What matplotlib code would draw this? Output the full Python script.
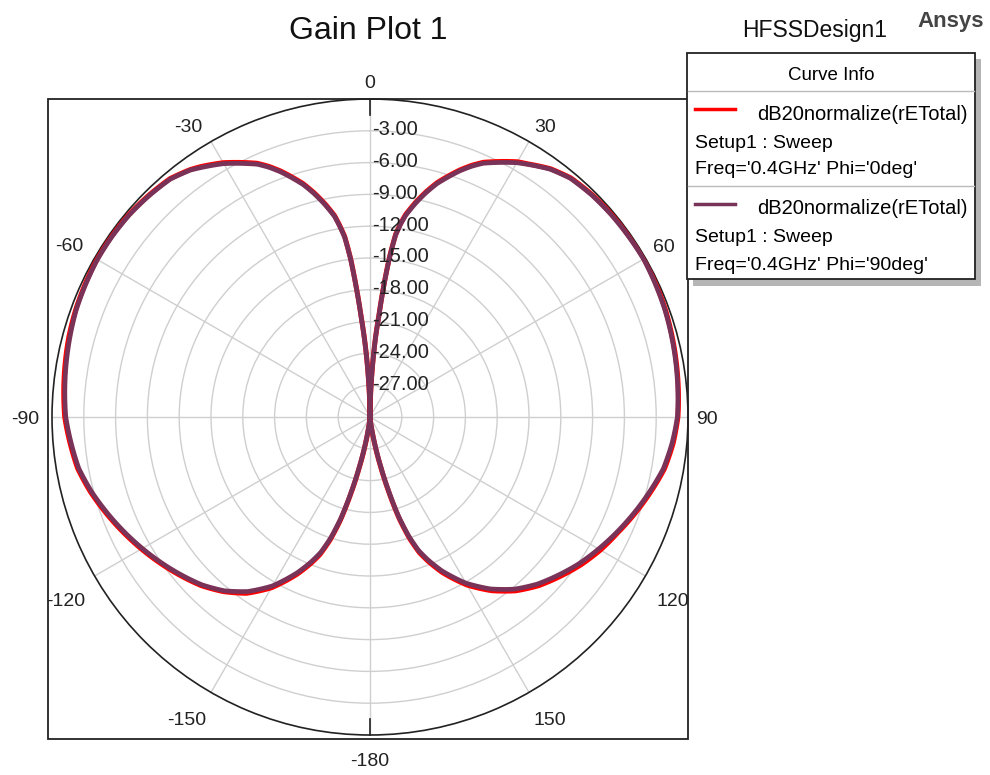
import numpy as np
import matplotlib
matplotlib.use("Agg")
import matplotlib.pyplot as plt
from matplotlib.patches import Rectangle
from matplotlib.lines import Line2D
from matplotlib.transforms import ScaledTranslation

plt.rcParams['font.family'] = ['Liberation Sans', 'DejaVu Sans']

# Theta in degrees (0 = up, clockwise positive)
theta_deg = [-180, -175, -172, -170, -168, -166, -164, -162, -160, -158, -155,
             -150, -145, -140, -135, -130, -125, -120, -115, -110, -105, -100, -95,
             -90, -85, -80, -75, -70, -65, -60, -55, -50, -45,
             -40, -38, -36, -34, -32, -30, -28, -26, -24, -22, -20, -18, -16, -14, -12,
             -10, -9, -8, -7, -6, -5, -4, -3, -2, -1, 0,
             1, 2, 3, 4, 5, 6, 7, 8, 9, 10,
             12, 14, 16, 18, 20, 22, 24, 26, 28, 30, 32, 34, 36, 38, 40,
             45, 50, 55, 60, 65, 70, 75, 80, 85, 90, 95, 100, 105, 110, 115, 120,
             125, 130, 135, 140, 145, 150,
             155, 158, 160, 162, 164, 166, 168, 170, 172, 175, 180]

# dB20normalize(rETotal), Phi = 90deg
gain_phi90 = [-30, -30, -28.9, -27.3, -25.3, -22.8, -20.1, -18.0, -16.4, -15.3, -13.8,
              -11.6, -9.9, -8.6, -7.6, -6.8, -6.0, -5.2, -4.4, -3.6, -2.8, -2.1, -1.7,
              -1.3, -1.1, -0.9, -0.7, -0.5, -0.4, -0.3, -0.3, -0.35, -0.5,
              -0.7, -0.95, -1.2, -1.6, -2.0, -2.4, -2.9, -3.4, -3.9, -4.6, -5.4, -6.3, -7.2, -8.3, -9.5,
              -10.8, -11.8, -12.9, -15.0, -17.9, -20.7, -22.8, -25.0, -27.2, -29.1, -30,
              -29.0, -27.0, -24.8, -22.5, -20.5, -17.6, -14.8, -12.7, -11.6, -10.7,
              -9.4, -8.2, -7.1, -6.2, -5.3, -4.5, -3.8, -3.3, -2.8, -2.3, -1.9, -1.5, -1.1, -0.85, -0.6,
              -0.4, -0.3, -0.25, -0.2, -0.3, -0.4, -0.55, -0.7, -0.85, -1.0, -1.4, -1.9, -2.7, -3.5, -4.3, -5.1,
              -5.9, -6.8, -7.7, -8.8, -10.2, -11.9,
              -14.0, -15.5, -16.6, -18.2, -20.3, -23.0, -25.5, -27.5, -29.0, -30, -30]

# dB20normalize(rETotal), Phi = 0deg
gain_phi0 = [-30, -30, -28.7, -27.1, -25.1, -22.6, -19.9, -17.8, -16.2, -15.1, -13.6,
             -11.4, -9.7, -8.5, -7.5, -6.7, -5.9, -5.1, -4.3, -3.5, -2.7, -2.0, -1.6,
             -1.2, -1.0, -0.8, -0.6, -0.45, -0.35, -0.25, -0.25, -0.3, -0.45,
             -0.65, -0.9, -1.15, -1.5, -1.9, -2.3, -2.8, -3.3, -3.8, -4.5, -5.3, -6.2, -7.1, -8.2, -9.4,
             -10.7, -11.7, -12.8, -14.9, -17.8, -20.6, -22.7, -24.9, -27.1, -29.0, -30,
             -28.9, -26.9, -24.7, -22.4, -20.4, -17.5, -14.7, -12.6, -11.5, -10.6,
             -9.3, -8.1, -7.0, -6.1, -5.2, -4.4, -3.7, -3.2, -2.7, -2.2, -1.85, -1.45, -1.05, -0.8, -0.55,
             -0.35, -0.25, -0.2, -0.15, -0.25, -0.35, -0.5, -0.65, -0.8, -0.95, -1.3, -1.8, -2.6, -3.4, -4.2, -4.9,
             -5.7, -6.6, -7.5, -8.6, -10.0, -11.7,
             -13.8, -15.3, -16.4, -18.0, -20.1, -22.8, -25.3, -27.3, -28.9, -30, -30]

r_ticks = [-27, -24, -21, -18, -15, -12, -9, -6, -3]
theta_labels = [0, 30, 60, 90, 120, 150, 180, -150, -120, -90, -60, -30]
theta_label_text = ['0', '30', '60', '90', '120', '150', '-180', '-150', '-120', '-90', '-60', '-30']
# label offsets from the rim, pixels (right, down)
label_offsets = [(0, -15), (16, -14), (18, -11), (19, 3), (27, 26), (21, 28), (0, 27),
                 (-24, 28), (-29, 26), (-27, 3), (-25, -11), (-23, -14)]

W, H = 990, 775
RED = '#ff0000'
PURPLE = '#7a3358'
GRID = '#cfcfcf'
INK = '#222222'


def fx(px):
    return px / W


def fy(py):
    return 1 - py / H


fig = plt.figure(figsize=(9.9, 7.75), dpi=100)

# outer frame around the plot area
fig.patches.append(Rectangle((fx(48), fy(739)), fx(688) - fx(48), fy(99) - fy(739),
                             transform=fig.transFigure, fill=False, edgecolor=INK,
                             linewidth=1.3, zorder=0))

ax = fig.add_axes([fx(52), fy(735), fx(688) - fx(52), fy(99) - fy(735)], projection='polar')
ax.set_theta_zero_location('N')
ax.set_theta_direction(-1)
ax.set_ylim(-30, 0)
ax.set_yticks(r_ticks)
ax.set_yticklabels([])
ax.set_xticks(np.deg2rad(np.arange(0, 360, 30)))
ax.set_xticklabels([])
ax.set_xticks(np.deg2rad(np.arange(0, 360, 5)), minor=True)
ax.tick_params(axis='x', which='both', direction='in', length=6, width=1.0, color=INK)
ax.grid(True, color=GRID, linewidth=1.0)
ax.spines['polar'].set_linewidth(1.2)
ax.spines['polar'].set_color(INK)

# longer ticks at 0 and 180
for a in (0, np.pi):
    ax.plot([a, a], [-1.5, 0], color=INK, lw=1.2, clip_on=False)

th = np.deg2rad(theta_deg)
curves = ax.plot(th, gain_phi0, color=RED, lw=3.6, zorder=3, solid_joinstyle='round')
curves += ax.plot(th, gain_phi90, color=PURPLE, lw=3.4, zorder=4, solid_joinstyle='round')
# let the polar transform draw each segment as an arc instead of a chord
for ln in curves:
    ln.get_path()._interpolation_steps = 12

# radial labels along the 0 deg spoke
off = ax.transData + ScaledTranslation(0.02, 0.01, fig.dpi_scale_trans)
for v in r_ticks:
    ax.text(0, v, f"{v:.2f}", ha='left', va='center', fontsize=14.5, color=INK,
            transform=off, zorder=5)

# angle labels
for a, t, (dx, dy) in zip(theta_labels, theta_label_text, label_offsets):
    ax.annotate(t, xy=(np.deg2rad(a), 0), xytext=(dx, -dy), textcoords='offset pixels',
                ha='center', va='center', fontsize=14, color=INK, annotation_clip=False)

# titles
fig.text(fx(368), fy(31), 'Gain Plot 1', ha='center', va='center', fontsize=23, color='#111111')
fig.text(fx(815), fy(30), 'HFSSDesign1', ha='center', va='center', fontsize=16.5, color='#111111')
fig.text(fx(951), fy(22), 'Ansys', ha='center', va='center', fontsize=16, fontweight='bold',
         color='#444444')

# legend box (Curve Info)
fig.patches.append(Rectangle((fx(693), fy(286)), fx(981) - fx(693), fy(59) - fy(286),
                             transform=fig.transFigure, facecolor='#b5b5b5', edgecolor='none',
                             zorder=5))
fig.patches.append(Rectangle((fx(687), fy(279)), fx(975) - fx(687), fy(53) - fy(279),
                             transform=fig.transFigure, facecolor='white', edgecolor=INK,
                             linewidth=1.3, zorder=6))
fig.text(fx(831), fy(75), 'Curve Info', ha='center', va='center', fontsize=13.5, zorder=7)
for ys in (91, 186):
    fig.lines.append(Line2D([fx(688), fx(974)], [fy(ys), fy(ys)], transform=fig.transFigure,
                            color='#bbbbbb', lw=1.0, zorder=7))

entries = [(RED, "Freq='0.4GHz' Phi='0deg'"), (PURPLE, "Freq='0.4GHz' Phi='90deg'")]
for i, (c, freq) in enumerate(entries):
    y0 = 109 + i * 95
    fig.lines.append(Line2D([fx(695), fx(735)], [fy(y0), fy(y0)], transform=fig.transFigure,
                            color=c, lw=2.5, zorder=7))
    fig.text(fx(968), fy(y0 + 5), 'dB20normalize(rETotal)', ha='right', va='center',
             fontsize=14.5, zorder=7)
    fig.text(fx(695), fy(y0 + 34), 'Setup1 : Sweep', ha='left', va='center', fontsize=14, zorder=7)
    fig.text(fx(695), fy(y0 + 61), freq, ha='left', va='center', fontsize=14, zorder=7)

fig.savefig('out.png', dpi=100)
